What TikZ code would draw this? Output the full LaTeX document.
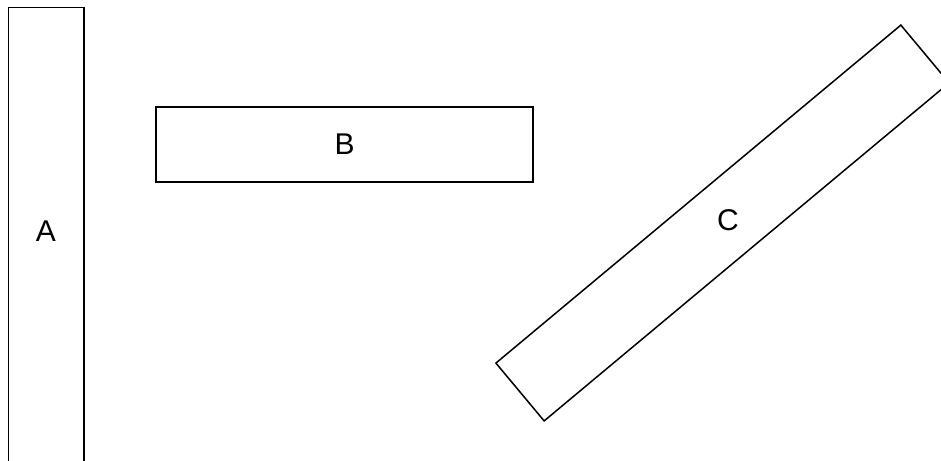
\documentclass[tikz,border=0pt]{standalone}
\usepackage{fontspec}
\setmainfont{Liberation Sans}
\begin{document}
\begin{tikzpicture}[x=1pt,y=-1pt,
  box/.style={draw=black, line width=1.5pt, fill=none, rectangle, inner sep=0pt, outer sep=0pt},
  lbl/.style={font=\fontsize{30}{34}\selectfont, inner sep=0pt}]
\useasboundingbox (0,0) rectangle (941,460);
\clip (0,0) rectangle (941,460);
\node[box, minimum width=75.5pt, minimum height=527pt] (A) at (46.2,271.2) {};
\node[lbl] (Alabel) at (46,231) {A};
\node[box, minimum width=377pt, minimum height=75pt] (B) at (344.5,144.5) {};
\node[lbl] (Blabel) at (B.center) {B};
\node[box, minimum width=527.5pt, minimum height=75.3pt, rotate=39.85] (C) at (722.5,223) {};
\node[lbl] (Clabel) at (728,220) {C};
\end{tikzpicture}
\end{document}
